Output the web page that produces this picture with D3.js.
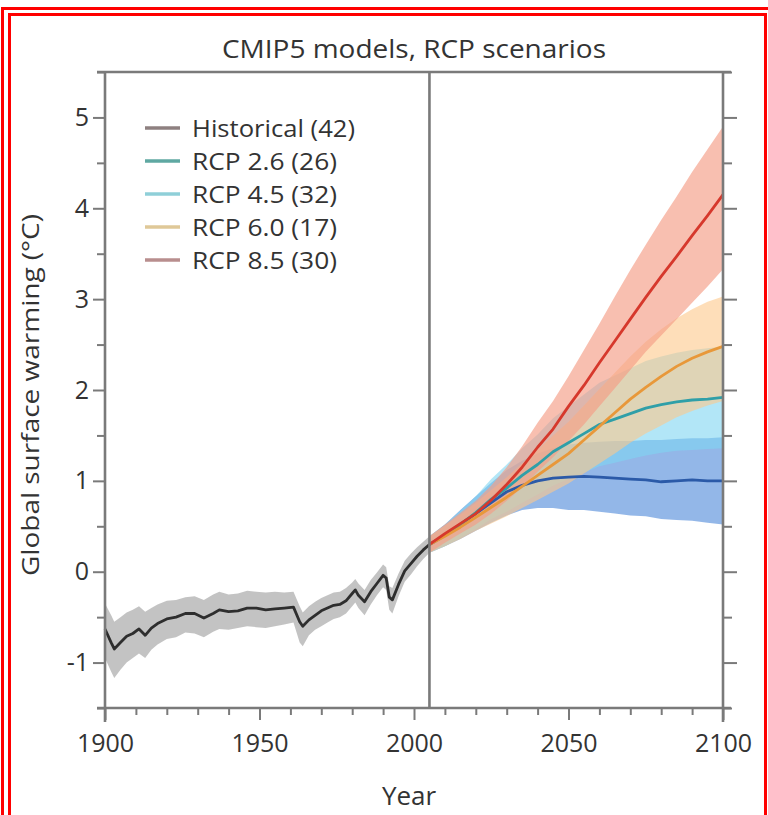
<!DOCTYPE html>
<html><head><meta charset="utf-8">
<script src="https://cdn.jsdelivr.net/npm/d3@7"></script>
<style>
body{margin:0;background:#fff}
svg{display:block}
text{font-family:"Open Sans",sans-serif;fill:#333}
</style>
</head><body><svg id="c" width="768" height="815"></svg>
<script>
// ---------- data ----------
const titleText = "CMIP5 models, RCP scenarios";
const xLabel = "Year";
const yLabel = "Global surface warming (°C)";
const xTickLabels = [1900, 1950, 2000, 2050, 2100];
const yTickLabels = [-1, 0, 1, 2, 3, 4, 5];
const seriesNames = ["Historical (42)", "RCP 2.6 (26)", "RCP 4.5 (32)", "RCP 6.0 (17)", "RCP 8.5 (30)"];

const histYears = [1900,1902,1903,1905,1907,1909,1911,1913,1915,1917,1920,1923,1926,1929,1932,1935,1937,1940,1943,1946,1949,1952,1955,1958,1961,1963,1964,1966,1968,1970,1972,1974,1976,1978,1980,1981,1982,1984,1986,1988,1990,1991,1992,1993,1995,1997,1999,2001,2003,2005];
const histMean = [-0.63,-0.78,-0.85,-0.78,-0.71,-0.68,-0.63,-0.70,-0.62,-0.57,-0.52,-0.50,-0.46,-0.46,-0.51,-0.46,-0.42,-0.44,-0.43,-0.40,-0.40,-0.42,-0.41,-0.40,-0.39,-0.55,-0.60,-0.53,-0.48,-0.43,-0.40,-0.37,-0.36,-0.32,-0.24,-0.20,-0.26,-0.33,-0.22,-0.13,-0.04,-0.07,-0.28,-0.31,-0.14,0.01,0.09,0.17,0.24,0.30];
const histLow  = [-0.95,-1.10,-1.17,-1.08,-1.00,-0.95,-0.90,-0.95,-0.86,-0.80,-0.74,-0.72,-0.67,-0.68,-0.72,-0.66,-0.63,-0.64,-0.62,-0.60,-0.61,-0.62,-0.60,-0.58,-0.56,-0.78,-0.82,-0.70,-0.64,-0.60,-0.56,-0.52,-0.50,-0.46,-0.38,-0.34,-0.40,-0.48,-0.36,-0.26,-0.17,-0.20,-0.42,-0.46,-0.27,-0.11,-0.03,0.06,0.14,0.21];
const histHigh = [-0.35,-0.48,-0.55,-0.50,-0.45,-0.42,-0.38,-0.44,-0.40,-0.36,-0.32,-0.31,-0.28,-0.27,-0.31,-0.25,-0.22,-0.25,-0.24,-0.21,-0.22,-0.23,-0.22,-0.23,-0.22,-0.38,-0.45,-0.38,-0.33,-0.29,-0.26,-0.23,-0.22,-0.18,-0.12,-0.08,-0.13,-0.20,-0.09,-0.01,0.08,0.05,-0.16,-0.18,-0.02,0.12,0.20,0.27,0.33,0.39];

const futYears = [2005,2010,2015,2020,2025,2030,2035,2040,2045,2050,2055,2060,2065,2070,2075,2080,2085,2090,2095,2100];
const rcp26Mean = [0.30,0.40,0.52,0.64,0.76,0.88,0.95,1.00,1.03,1.04,1.05,1.04,1.03,1.02,1.01,0.99,1.00,1.01,1.00,1.00];
const rcp26Low  = [0.21,0.28,0.36,0.45,0.54,0.62,0.68,0.70,0.70,0.68,0.68,0.66,0.64,0.62,0.61,0.58,0.57,0.56,0.54,0.52];
const rcp26High = [0.39,0.52,0.68,0.83,0.98,1.12,1.22,1.30,1.36,1.40,1.42,1.43,1.44,1.44,1.45,1.45,1.46,1.47,1.47,1.48];
const rcp45Mean = [0.30,0.40,0.52,0.65,0.80,0.92,1.06,1.18,1.32,1.42,1.52,1.62,1.68,1.74,1.80,1.84,1.87,1.89,1.90,1.92];
const rcp45Low  = [0.21,0.28,0.37,0.47,0.58,0.66,0.76,0.85,0.95,1.02,1.09,1.16,1.20,1.24,1.28,1.31,1.33,1.34,1.35,1.36];
const rcp45High = [0.39,0.52,0.67,0.83,1.02,1.18,1.36,1.51,1.69,1.82,1.95,2.08,2.16,2.24,2.32,2.37,2.41,2.44,2.46,2.48];
const rcp60Mean = [0.30,0.39,0.49,0.60,0.71,0.82,0.94,1.06,1.18,1.30,1.45,1.60,1.75,1.90,2.03,2.15,2.26,2.35,2.42,2.48];
const rcp60Low  = [0.21,0.28,0.36,0.45,0.53,0.61,0.70,0.79,0.88,0.97,1.08,1.19,1.30,1.42,1.52,1.61,1.70,1.77,1.83,1.88];
const rcp60High = [0.39,0.51,0.63,0.76,0.90,1.04,1.19,1.34,1.50,1.65,1.83,2.01,2.19,2.37,2.53,2.67,2.79,2.89,2.97,3.03];
const rcp85Mean = [0.30,0.42,0.53,0.64,0.79,0.96,1.15,1.37,1.57,1.82,2.05,2.30,2.54,2.78,3.02,3.25,3.47,3.70,3.92,4.15];
const rcp85Low  = [0.21,0.32,0.42,0.52,0.64,0.78,0.93,1.10,1.26,1.44,1.62,1.82,2.02,2.22,2.42,2.60,2.78,2.96,3.14,3.33];
const rcp85High = [0.39,0.52,0.65,0.78,0.95,1.15,1.38,1.64,1.88,2.15,2.44,2.73,3.03,3.32,3.60,3.87,4.13,4.40,4.65,4.90];

// ---------- styles ----------
const lineColors = ["#2e2e2e", "#2b5aa8", "#2f9fa8", "#e8983a", "#d6382c"];
const bandColors = ["#b8b8b8", "#6f9fe0", "#7fd6f2", "#fdc88a", "#f59c86"];
const legendColors = ["#8e8080", "#5fa8a2", "#8fcfd8", "#dfc898", "#b88e8e"];

const svg = d3.select("#c");
const X0 = 105, X1 = 723, Y0 = 72, Y1 = 708;
const x = d3.scaleLinear().domain([1900, 2100]).range([X0, X1]);
const y = d3.scaleLinear().domain([-1.5, 5.5]).range([Y1, Y0]);

// red double frame
svg.append("rect").attr("x", 2.5).attr("y", 8.5).attr("width", 780).attr("height", 830)
  .attr("fill", "none").attr("stroke", "#ff0000").attr("stroke-width", 3);
svg.append("rect").attr("x", 9.5).attr("y", 14.5).attr("width", 756).attr("height", 830)
  .attr("fill", "none").attr("stroke", "#ff0000").attr("stroke-width", 3);

const toRows = (yrs, m, lo, hi) => yrs.map((yr, i) => ({yr, m: m[i], lo: lo[i], hi: hi[i]}));
const series = [
  toRows(histYears, histMean, histLow, histHigh),
  toRows(futYears, rcp26Mean, rcp26Low, rcp26High),
  toRows(futYears, rcp45Mean, rcp45Low, rcp45High),
  toRows(futYears, rcp60Mean, rcp60Low, rcp60High),
  toRows(futYears, rcp85Mean, rcp85Low, rcp85High)
];

const area = d3.area().x(d => x(d.yr)).y0(d => y(d.lo)).y1(d => y(d.hi)).curve(d3.curveLinear);
const line = d3.line().x(d => x(d.yr)).y(d => y(d.m)).curve(d3.curveLinear);
const bandOpacity = [0.85, 0.75, 0.6, 0.6, 0.65];

const gPlot = svg.append("g");
series.forEach((s, i) => {
  gPlot.append("path").attr("d", area(s)).attr("fill", bandColors[i]).attr("opacity", bandOpacity[i]);
});
[1, 2, 3, 4, 0].forEach(i => {
  gPlot.append("path").attr("d", line(series[i])).attr("fill", "none")
    .attr("stroke", lineColors[i]).attr("stroke-width", 2.8).attr("stroke-linejoin", "round");
});

// frame lines
const axisColor = "#7a7a7a";
const fr = svg.append("g").attr("stroke", axisColor).attr("stroke-width", 2.6);
fr.append("line").attr("x1", X0 - 8).attr("x2", X1 + 8).attr("y1", Y0).attr("y2", Y0);
fr.append("line").attr("x1", X0 - 8).attr("x2", X1 + 8).attr("y1", Y1).attr("y2", Y1);
fr.append("line").attr("x1", X0).attr("x2", X0).attr("y1", Y0).attr("y2", Y1 + 14);
fr.append("line").attr("x1", X1).attr("x2", X1).attr("y1", Y0).attr("y2", Y1 + 14);
fr.append("line").attr("x1", x(2005)).attr("x2", x(2005)).attr("y1", Y0).attr("y2", Y1);

// axes via d3.axis
function styleAxis(g) {
  g.select(".domain").remove();
  g.selectAll(".tick line").attr("stroke", axisColor).attr("stroke-width", 2);
  g.selectAll(".tick text").attr("fill", "#333").style("font-family", '"Open Sans",sans-serif');
}
const yMinor = d3.range(-1.5, 5.51, 0.5).filter(v => !Number.isInteger(v));
const xMinor = d3.range(1910, 2100, 10).filter(v => v % 50 !== 0);

svg.append("g").attr("transform", `translate(${X0},0)`)
  .call(d3.axisLeft(y).tickValues(yTickLabels).tickSize(12).tickPadding(4).tickFormat(d => String(d)))
  .call(styleAxis).call(g => g.selectAll(".tick text").attr("font-size", 25));
svg.append("g").attr("transform", `translate(${X0},0)`)
  .call(d3.axisLeft(y).tickValues(yMinor).tickSize(8).tickFormat(""))
  .call(styleAxis);
svg.append("g").attr("transform", `translate(${X1},0)`)
  .call(d3.axisRight(y).tickValues(yTickLabels).tickSize(14).tickFormat(""))
  .call(styleAxis);
svg.append("g").attr("transform", `translate(${X1},0)`)
  .call(d3.axisRight(y).tickValues(yMinor).tickSize(9).tickFormat(""))
  .call(styleAxis);
svg.append("g").attr("transform", `translate(0,${Y1})`)
  .call(d3.axisBottom(x).tickValues(xTickLabels).tickSize(12).tickPadding(14).tickFormat(d => String(d)))
  .call(styleAxis).call(g => g.selectAll(".tick text").attr("font-size", 25));
svg.append("g").attr("transform", `translate(0,${Y1})`)
  .call(d3.axisBottom(x).tickValues(xMinor).tickSize(7).tickFormat(""))
  .call(styleAxis);

// titles
svg.append("text").attr("x", 414).attr("y", 58).attr("text-anchor", "middle")
  .attr("font-size", 25).attr("textLength", 384).attr("lengthAdjust", "spacingAndGlyphs").text(titleText);
svg.append("text").attr("x", 409).attr("y", 805).attr("text-anchor", "middle")
  .attr("font-size", 26).text(xLabel);
svg.append("text").attr("transform", "translate(39,395) rotate(-90)").attr("text-anchor", "middle")
  .attr("font-size", 23).attr("textLength", 362).attr("lengthAdjust", "spacingAndGlyphs").text(yLabel);

// legend
const lg = svg.append("g");
seriesNames.forEach((name, i) => {
  const cy = 128 + i * 33;
  lg.append("line").attr("x1", 145).attr("x2", 180).attr("y1", cy).attr("y2", cy)
    .attr("stroke", legendColors[i]).attr("stroke-width", 3.5);
  lg.append("text").attr("x", 192).attr("y", cy + 9).attr("font-size", 23)
    .attr("textLength", i === 0 ? 163 : 145).attr("lengthAdjust", "spacingAndGlyphs").text(name);
});
</script></body></html>
